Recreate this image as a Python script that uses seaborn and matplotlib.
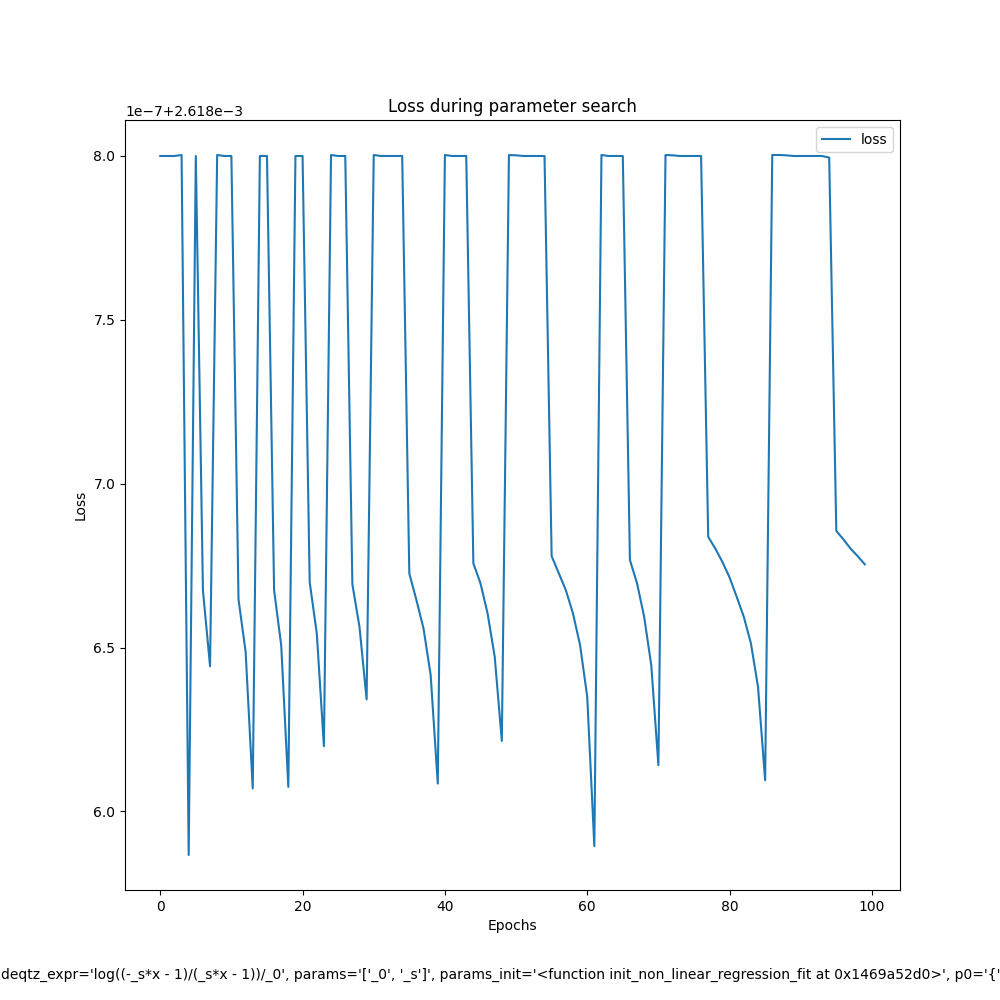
import matplotlib
matplotlib.use("Agg")
import matplotlib.pyplot as plt
import seaborn as sns
import numpy as np
import pandas as pd

epochs = list(range(100))
# loss values in units of 1e-7 above 2.618e-3
loss_scaled = [
    8.0, 8.0, 8.0, 8.003, 5.867, 8.0, 6.675, 6.443, 8.003, 8.0,
    8.0, 6.647, 6.487, 6.070, 8.0, 8.0, 6.675, 6.507, 6.075, 8.0,
    8.0, 6.700, 6.543, 6.199, 8.003, 8.0, 8.0, 6.693, 6.563, 6.342,
    8.003, 8.0, 8.0, 8.0, 8.0, 6.726, 6.645, 6.558, 6.416, 6.085,
    8.003, 8.0, 8.0, 8.0, 6.757, 6.696, 6.604, 6.472, 6.215, 8.003,
    8.002, 8.0, 8.0, 8.0, 8.0, 6.779, 6.727, 6.675, 6.604, 6.507,
    6.350, 5.894, 8.003, 8.0, 8.0, 8.0, 6.767, 6.696, 6.594, 6.446,
    6.141, 8.003, 8.002, 8.0, 8.0, 8.0, 8.0, 6.838, 6.802, 6.761,
    6.714, 6.655, 6.594, 6.513, 6.380, 6.095, 8.003, 8.003, 8.002, 8.0,
    8.0, 8.0, 8.0, 8.0, 7.995, 6.856, 6.830, 6.802, 6.779, 6.754,
]
loss_offset = 2.618e-3
loss_unit = 1e-7
loss = [loss_offset + v * loss_unit for v in loss_scaled]

title = "Loss during parameter search"
xlabel = "Epochs"
ylabel = "Loss"
series_label = "loss"
caption = ("deqtz_expr='log((-_s*x - 1)/(_s*x - 1))/_0', params='['_0', '_s']', "
           "params_init='<function init_non_linear_regression_fit at 0x1469a52d0>', "
           "p0='{'_0': 1.0, '_s': 1.0}'")

df = pd.DataFrame({"epoch": epochs, "loss": loss})

fig, ax = plt.subplots(figsize=(10, 10), dpi=100)
sns.lineplot(data=df, x="epoch", y="loss", ax=ax, label=series_label, color="#1f77b4")
ax.set_title(title)
ax.set_xlabel(xlabel)
ax.set_ylabel(ylabel)
ax.legend(loc="upper right")
fig.text(0.001, 0.025, caption, ha="left", va="center", fontsize=10)
fig.savefig("out.png", dpi=100)
